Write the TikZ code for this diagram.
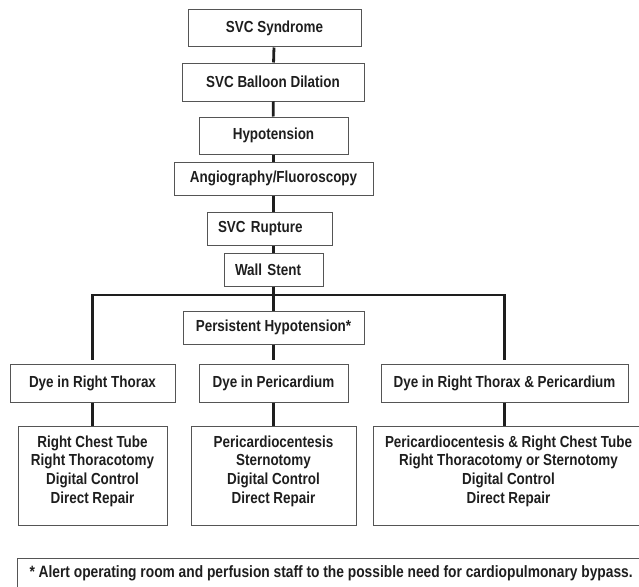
\documentclass[tikz,border=0pt]{standalone}
\usepackage{fontspec}
\newfontfamily\chartfont{Liberation Sans}[FakeStretch=0.84]
\definecolor{boxgray}{RGB}{85,85,85}
\definecolor{inkblack}{RGB}{30,30,30}

\begin{document}
\begin{tikzpicture}[
  x=1pt, y=-1pt,
  box/.style={draw=boxgray, line width=1pt, align=center, inner sep=0pt,
              font=\chartfont\bfseries\fontsize{16}{18.7}\selectfont,
              text=inkblack},
  leftbox/.style={box, align=left, inner xsep=11pt},
  care/.style={box, minimum height=99pt, text depth=12pt},
  link/.style={line width=2.8pt, draw=inkblack}
]
\useasboundingbox (0,0) rectangle (639,586);

\node[box, minimum width=173pt, minimum height=37pt] (syndrome) at (274.5,28.5)
  {SVC Syndrome};
\node[box, minimum width=182pt, minimum height=38pt] (dilation) at (273,82)
  {SVC Balloon Dilation};
\node[box, minimum width=149pt, minimum height=37pt] (hypotension) at (273.5,135.5)
  {Hypotension};
\node[box, minimum width=199pt, minimum height=33pt] (angio) at (273.5,178.5)
  {Angiography/Fluoroscopy};
\node[leftbox, text width=103pt, minimum height=33pt] (rupture) at (269.5,228.5)
  {SVC Rupture};
\node[leftbox, text width=77pt, minimum height=33pt] (stent) at (273.5,269.5)
  {Wall Stent};
\coordinate (split) at (273.5,295);
\node[box, minimum width=181pt, minimum height=33pt] (persistent) at (273.5,327.5)
  {Persistent Hypotension*};

\node[box, minimum width=165pt, minimum height=38pt] (thorax) at (92.5,383)
  {Dye in Right Thorax};
\node[box, minimum width=149pt, minimum height=38pt] (pericardium) at (273.5,383)
  {Dye in Pericardium};
\node[box, minimum width=247pt, minimum height=38pt] (both) at (504.5,383)
  {Dye in Right Thorax \& Pericardium};

\node[care, minimum width=149pt] (thoraxcare) at (92.5,475.5)
  {Right Chest Tube\\Right Thoracotomy\\Digital Control\\Direct Repair};
\node[care, minimum width=165pt] (pericardiumcare) at (273.5,475.5)
  {Pericardiocentesis\\Sternotomy\\Digital Control\\Direct Repair};
\node[care, minimum width=271pt] (bothcare) at (508.5,475.5)
  {Pericardiocentesis \& Right Chest Tube\\Right Thoracotomy or Sternotomy\\
   Digital Control\\Direct Repair};

\node[box, anchor=north west, align=flush left, inner xsep=12pt, text width=620pt,
  minimum height=30pt, font=\chartfont\bfseries\fontsize{16.4}{18.7}\selectfont]
  (note) at (17,558)
  {* Alert operating room and perfusion staff to the possible need for cardiopulmonary bypass.};

\draw[link] (syndrome) -- (dilation);
\draw[link] (dilation) -- (hypotension);
\draw[link] (hypotension) -- (angio);
\draw[link] (angio) -- (angio |- rupture.north);
\draw[link] (stent.north) -- (stent.north |- rupture.south);
\draw[link] (stent) -- (persistent);
\draw[link, shorten >=4pt] (persistent) -- (pericardium);
\draw[link, shorten <=4pt, shorten >=4pt] (thorax.north) |- (split) -| (both.north);

\draw[link] (thorax) -- (thoraxcare);
\draw[link] (pericardium) -- (pericardiumcare);
\draw[link] (both) -- (both |- bothcare.north);
\end{tikzpicture}
\end{document}
